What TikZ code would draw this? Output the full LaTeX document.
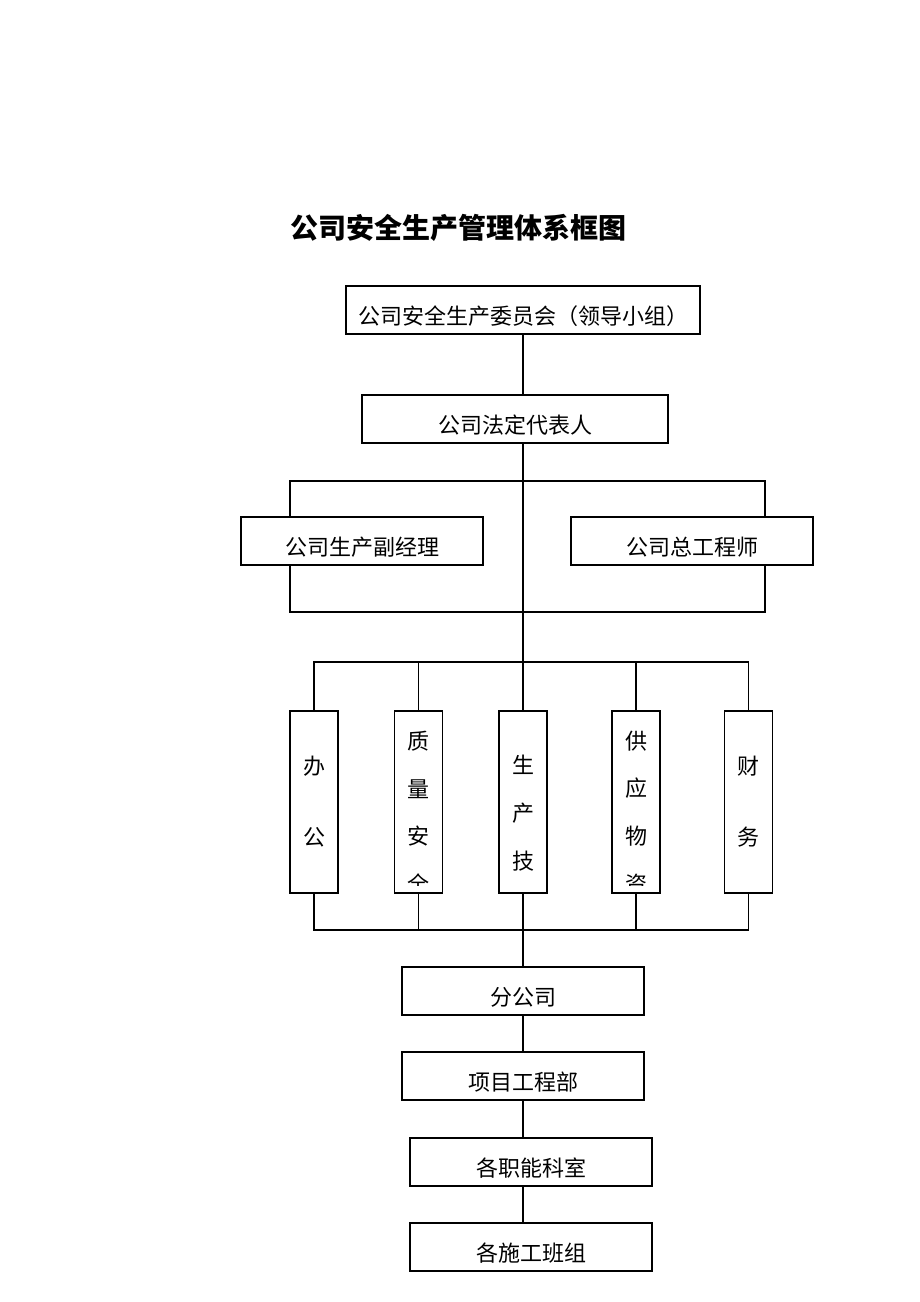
\documentclass[tikz,border=0pt]{standalone}
\usepackage{fontspec}
\usepackage{tikz}
\newfontfamily\cjk{Noto Sans CJK SC}

\begin{document}
\begin{tikzpicture}
		[x=0.75pt,y=-0.75pt,line cap=rect,
		%Styles
		conn/.style={line width=0.8pt},
		title text/.style={font=\cjk\bfseries\fontsize{21}{25}\selectfont},
		box/.style={draw,line width=0.8pt,minimum width=#1,minimum height=36pt,inner sep=0pt,
			font=\cjk\fontsize{16.5}{20}\selectfont,text height=21pt,text depth=0pt},
		vbox/.style={draw,line width=0.8pt,minimum width=36pt,minimum height=136.5pt,inner sep=0pt},
		vtext/.style={inner sep=0pt,align=center,font=\cjk\fontsize{16.5}{35.8}\selectfont}
		]
		
		%Page
		\path[use as bounding box,fill=white] (0,0) rectangle (920,1302);
		
		%The graphic
		\node[title text] (title) at (458, 228) {公司安全生产管理体系框图};
		
		\node[box=265.5pt] (committee) at (523, 310) {公司安全生产委员会（领导小组）};
		\node[box=229.5pt] (legal) at (515, 419) {公司法定代表人};
		\node[box=181.5pt] (vicemgr) at (362, 541) {公司生产副经理};
		\node[box=181.5pt] (chiefeng) at (692, 541) {公司总工程师};
		
		\node[vbox] (office) at (314, 802) {};
		\node[vbox] (quality) at (418.5, 802) {};
		\node[vbox] (prodtech) at (523, 802) {};
		\node[vbox] (supply) at (636, 802) {};
		\node[vbox] (finance) at (748.5, 802) {};
		
		\node[vtext] (office-t) at (314, 802) {办\\[17.5pt]公};
		\node[vtext] (prodtech-t) at (523, 813) {生\\产\\技};
		\node[vtext] (finance-t) at (748.5, 802) {财\\[17.5pt]务};
		\begin{scope}
			\clip (quality.north west) rectangle ([yshift=6pt]quality.south east);
			\node[vtext] (quality-t) at (418.5, 812.5) {质\\量\\安\\全};
		\end{scope}
		\begin{scope}
			\clip (supply.north west) rectangle ([yshift=6pt]supply.south east);
			\node[vtext] (supply-t) at (636, 812.5) {供\\应\\物\\资};
		\end{scope}
		
		\node[box=181.5pt] (branch) at (523, 991) {分公司};
		\node[box=181.5pt] (project) at (523, 1076) {项目工程部};
		\node[box=181.5pt] (depts) at (531, 1162) {各职能科室};
		\node[box=181.5pt] (teams) at (531, 1247) {各施工班组};
		
		%Junctions
		\coordinate (vm-top) at (290, 481);
		\coordinate (ce-top) at (765, 481);
		\coordinate (ce-bot) at (765, 612);
		\coordinate (dept-split) at (523, 662);
		\coordinate (dept-join) at (523, 930);
		
		%Trunk
		\draw[conn] (committee.south) -- (committee.south |- legal.north);
		\draw[conn] (committee.south |- legal.south) -- (prodtech.north);
		\draw[conn] (prodtech.south) -- (branch.north);
		\draw[conn] (branch.south) -- (project.north);
		\draw[conn] (project.south) -- (project.south |- depts.north);
		\draw[conn] (project.south |- depts.south) -- (project.south |- teams.north);
		
		%Deputies
		\draw[conn] (vicemgr.north -| vm-top) -- (vm-top) -- (ce-top) -- (chiefeng.north -| ce-top);
		\draw[conn] (vicemgr.south -| vm-top) |- (ce-bot) -- (chiefeng.south -| ce-top);
		
		%Departments
		\draw[conn] (office.north) |- (finance.north |- dept-split) -- (finance.north);
		\draw[conn] (quality.north) -- (quality.north |- dept-split);
		\draw[conn] (supply.north) -- (supply.north |- dept-split);
		\draw[conn] (office.south) |- (finance.south |- dept-join) -- (finance.south);
		\draw[conn] (quality.south) -- (quality.south |- dept-join);
		\draw[conn] (supply.south) -- (supply.south |- dept-join);
	\end{tikzpicture}
\end{document}
